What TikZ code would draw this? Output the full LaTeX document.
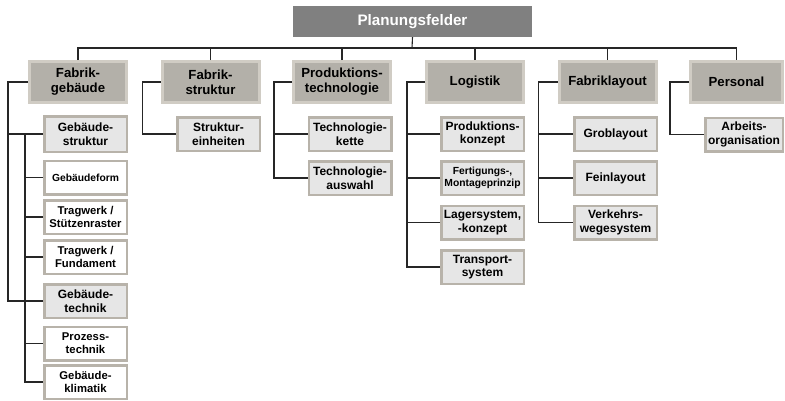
\documentclass[tikz,border=0pt]{standalone}
\usepackage{fontspec}
\setmainfont{Liberation Sans}
\definecolor{fieldfill}{RGB}{179,176,169}
\definecolor{fieldrim}{RGB}{208,204,196}
\definecolor{subfill}{RGB}{230,230,230}
\definecolor{subrim}{RGB}{184,179,170}
\begin{document}
\begin{tikzpicture}[x=1pt,y=-1pt,
  conn/.style={draw=black!85, line width=1.1pt},
  topbox/.style={fill=black!50, text=white, minimum width=239pt, minimum height=31pt,
    inner sep=0pt, font=\fontsize{15.2}{17}\selectfont\bfseries},
  fieldbox/.style={fill=fieldfill, draw=fieldrim, line width=3pt, minimum width=97pt,
    minimum height=41pt, inner sep=0pt, align=center,
    font=\fontsize{13.2}{14.8}\selectfont\bfseries},
  subbox/.style={fill=subfill, draw=subrim, line width=2.5pt, minimum width=82.5pt,
    minimum height=33.5pt, inner sep=0pt, align=center,
    font=\fontsize{12}{13.6}\selectfont\bfseries},
  leafbox/.style={subbox, fill=white},
  smalltext/.style={font=\fontsize{10.3}{12}\selectfont\bfseries},
  midtext/.style={font=\fontsize{11.3}{13}\selectfont\bfseries},
]
\useasboundingbox (0,0) rectangle (785,400);

% root and the six planning fields
\node[topbox] (top) at (412.5,21.5) {Planungsfelder};
\node[fieldbox] (fg) at (78,82) {Fabrik-\\gebäude};
\node[fieldbox] (fs) at (210.5,82) {Fabrik-\\struktur};
\node[fieldbox] (pt) at (342,82) {Produktions-\\technologie};
\node[fieldbox] (lo) at (475,82) {Logistik};
\node[fieldbox] (fl) at (607.5,82) {Fabriklayout};
\node[fieldbox, minimum width=92pt] (pe) at (736.5,82) {Personal};

% bus from the root to the fields
\coordinate (bus) at (412,48);
\draw[conn] (top.south) -- (bus);
\draw[conn] (fg.north) -- (fg.north |- bus) -- (pe.north |- bus) -- (pe.north);
\foreach \n in {fs,pt,lo,fl}
  \draw[conn] (\n.north) -- (\n.north |- bus);

% Fabrikgebäude
\node[subbox, minimum height=35.5pt] (fg1) at (85.5,134) {Gebäude-\\struktur};
\node[leafbox, smalltext] (fg2) at (85.5,177.5) {Gebäudeform};
\node[leafbox, midtext] (fg3) at (85.5,217) {Tragwerk /\\Stützenraster};
\node[leafbox, midtext] (fg4) at (85.5,257) {Tragwerk /\\Fundament};
\node[subbox] (fg5) at (85.5,301) {Gebäude-\\technik};
\node[leafbox, midtext] (fg6) at (85.5,343.5) {Prozess-\\technik};
\node[leafbox, midtext] (fg7) at (85.5,382) {Gebäude-\\klimatik};

\draw[conn] (fg.west) -- ++(-20,0) coordinate (fgtr) |- (fg5.west);
\draw[conn] (fg1.west) -- (fg1.west -| fgtr);
\draw[conn] (fg1.west) ++(-18,0) |- (fg7.west);
\foreach \n in {fg2,fg3,fg4,fg5,fg6}
  \draw[conn] (\n.west) -- ++(-18,0);

% Fabrikstruktur
\node[subbox] (fs1) at (218.5,134) {Struktur-\\einheiten};
\draw[conn] (fs.west) -- ++(-18,0) |- (fs1.west);

% Produktionstechnologie
\node[subbox] (pt1) at (350,134) {Technologie-\\kette};
\node[subbox] (pt2) at (350,178) {Technologie-\\auswahl};
\draw[conn] (pt.west) -- ++(-18,0) |- (pt2.west);
\draw[conn] (pt1.west) -- ++(-34,0);

% Logistik
\node[subbox] (lo1) at (482.5,134) {Produktions-\\konzept};
\node[subbox, smalltext] (lo2) at (482.5,178) {Fertigungs-,\\Montageprinzip};
\node[subbox] (lo3) at (482.5,222.5) {Lagersystem,\\-konzept};
\node[subbox] (lo4) at (482.5,267) {Transport-\\system};
\draw[conn] (lo.west) -- ++(-18,0) |- (lo4.west);
\foreach \n in {lo1,lo2,lo3}
  \draw[conn] (\n.west) -- ++(-34,0);

% Fabriklayout
\node[subbox] (fl1) at (615.5,134) {Groblayout};
\node[subbox] (fl2) at (615.5,178) {Feinlayout};
\node[subbox] (fl3) at (615.5,222.5) {Verkehrs-\\wegesystem};
\draw[conn] (fl.west) -- ++(-19,0) |- (fl3.west);
\foreach \n in {fl1,fl2}
  \draw[conn] (\n.west) -- ++(-35,0);

% Personal
\node[subbox, minimum width=77.5pt] (pe1) at (744,134.5) {Arbeits-\\organisation};
\draw[conn] (pe.west) -- ++(-19,0) |- (pe1.west);
\end{tikzpicture}
\end{document}
